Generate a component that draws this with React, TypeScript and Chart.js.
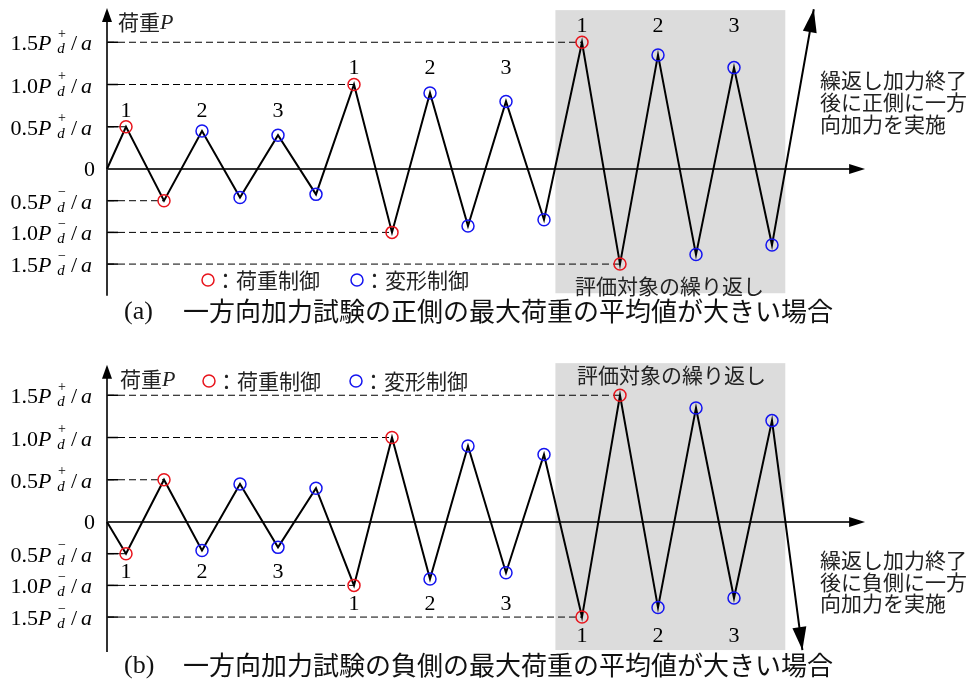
import React, { useEffect, useRef } from "react";
import { Chart, registerables } from "chart.js";
Chart.register(...registerables);

// ---- data ----
// x positions of each half-cycle peak (in half-step units from the origin)
const HALF_CYCLE_X = [1, 3, 5, 7, 9, 11, 13, 15, 17, 19, 21, 23, 25, 27, 29, 31, 33, 35];
// peak loads, as multiples of Pd+/a (positive) or Pd-/a (negative)
const PEAKS_A = [0.5, -0.5, 0.45, -0.45, 0.4, -0.4, 1.0, -1.0, 0.9, -0.9, 0.8, -0.8, 1.5, -1.5, 1.35, -1.35, 1.2, -1.2];
const PEAKS_B = [-0.5, 0.5, -0.45, 0.45, -0.4, 0.4, -1.0, 1.0, -0.9, 0.9, -0.8, 0.8, -1.5, 1.5, -1.35, 1.35, -1.2, 1.2];
const CONTROL = ["load", "load", "disp", "disp", "disp", "disp", "load", "load", "disp", "disp", "disp", "disp", "load", "load", "disp", "disp", "disp", "disp"];
const CYCLE_LABELS = ["1", "", "2", "", "3", "", "1", "", "2", "", "3", "", "1", "", "2", "", "3", ""];
const END_A = [37.2, 1.89];
const END_B = [36.6, -2.02];
const Y_LEVELS = [1.5, 1.0, 0.5, 0, -0.5, -1.0, -1.5];
const Y_LEVEL_NUMS = ["1.5", "1.0", "0.5", "0", "0.5", "1.0", "1.5"];
// drawn length of Pd- relative to Pd+
const NEG_RATIO = 0.75;
const plotY = (v: number) => (v < 0 ? v * NEG_RATIO : v);

const JP = '"Noto Sans CJK JP", sans-serif';
const SERIF = '"Liberation Serif", serif';

type Spec = any;

const SPEC_A: Spec = {
  peaks: PEAKS_A,
  end: END_A,
  height: 340,
  padBottom: 40,
  yMin: -1.55,
  yMax: 2.0,
  box: { x0: 23.6, x1: 35.7, yTop: 1.88, yBottom: -1.96 },
  axisY: [-2.0, 1.905],
  labelSide: "above",
  legendY: 280,
  legendRedX: 208,
  legendBlueX: 357,
  titleX: 118,
  titleY: 22,
  boxTextX: 575,
  boxTextY: 286,
  notes: ["繰返し加力終了", "後に正側に一方", "向加力を実施"],
  noteX: 820,
  noteY: [80, 102, 124],
  capTag: "(a)",
  caption: "一方向加力試験の正側の最大荷重の平均値が大きい場合",
  captionY: 311,
};

const SPEC_B: Spec = {
  peaks: PEAKS_B,
  end: END_B,
  height: 349,
  padBottom: 29,
  yMin: -1.633,
  yMax: 2.154,
  box: { x0: 23.6, x1: 35.7, yTop: 1.88, yBottom: -2.02 },
  axisY: [-2.05, 1.86],
  labelSide: "below",
  legendY: 41,
  legendRedX: 209,
  legendBlueX: 356,
  titleX: 120,
  titleY: 39,
  boxTextX: 577,
  boxTextY: 35,
  notes: ["繰返し加力終了", "後に負側に一方", "向加力を実施"],
  noteX: 820,
  noteY: [220, 242, 263],
  capTag: "(b)",
  caption: "一方向加力試験の負側の最大荷重の平均値が大きい場合",
  captionY: 325,
};

function arrowHead(ctx: CanvasRenderingContext2D, x0: number, y0: number, x1: number, y1: number, len: number, hw: number) {
  const a = Math.atan2(y1 - y0, x1 - x0);
  const bx = x1 - len * Math.cos(a);
  const by = y1 - len * Math.sin(a);
  ctx.beginPath();
  ctx.moveTo(x1, y1);
  ctx.lineTo(bx + hw * Math.sin(a), by - hw * Math.cos(a));
  ctx.lineTo(bx - hw * Math.sin(a), by + hw * Math.cos(a));
  ctx.closePath();
  ctx.fill();
}

function makeChart(canvas: HTMLCanvasElement, spec: Spec) {
  const pts = spec.peaks.map((v: number, i: number) => ({ x: HALF_CYCLE_X[i], y: plotY(v) }));
  const path = [{ x: 0, y: 0 }, ...pts, { x: spec.end[0], y: plotY(spec.end[1]) }];
  const red = pts.filter((_: any, i: number) => CONTROL[i] === "load");
  const blue = pts.filter((_: any, i: number) => CONTROL[i] === "disp");
  const guides = red.map((p: any) => ({
    data: [{ x: 0, y: p.y }, p],
    showLine: true,
    borderColor: "#000",
    borderWidth: 1,
    borderDash: [7, 4],
    pointRadius: 0,
    clip: false,
    order: 4,
  }));

  const deco = {
    id: "deco",
    beforeDatasetsDraw(chart: any) {
      const { ctx, scales } = chart;
      const px = (v: number) => scales.x.getPixelForValue(v);
      const py = (v: number) => scales.y.getPixelForValue(plotY(v));
      ctx.save();
      const b = spec.box;
      ctx.fillStyle = "#dcdcdc";
      ctx.fillRect(px(b.x0), py(b.yTop), px(b.x1) - px(b.x0), py(b.yBottom) - py(b.yTop));
      // level ticks
      ctx.strokeStyle = "#000";
      ctx.lineWidth = 1.5;
      Y_LEVELS.forEach((l) => {
        if (l === 0) return;
        ctx.beginPath();
        ctx.moveTo(px(0), py(l));
        ctx.lineTo(px(0) + 11, py(l));
        ctx.stroke();
      });
      // axes
      ctx.strokeStyle = "#333";
      ctx.fillStyle = "#000";
      ctx.lineWidth = 2;
      const x0 = px(0), y0 = py(0);
      const xEnd = px(39.9);
      ctx.beginPath();
      ctx.moveTo(x0, y0);
      ctx.lineTo(xEnd - 10, y0);
      ctx.stroke();
      arrowHead(ctx, x0, y0, xEnd, y0, 16, 5);
      const yb = py(spec.axisY[0]), yt = py(spec.axisY[1]);
      ctx.beginPath();
      ctx.moveTo(x0, yb);
      ctx.lineTo(x0, yt + 8);
      ctx.stroke();
      arrowHead(ctx, x0, yb, x0, yt, 14, 5);
      ctx.restore();
    },
    afterDatasetsDraw(chart: any) {
      const { ctx, scales } = chart;
      const px = (v: number) => scales.x.getPixelForValue(v);
      const py = (v: number) => scales.y.getPixelForValue(plotY(v));
      ctx.save();
      // final arrow head
      ctx.fillStyle = "#000";
      const last = path[path.length - 2];
      const endP = path[path.length - 1];
      arrowHead(ctx, px(last.x), scales.y.getPixelForValue(last.y), px(endP.x), scales.y.getPixelForValue(endP.y), 23, 7);

      // y level labels
      ctx.fillStyle = "#000";
      Y_LEVELS.forEach((l, i) => {
        const y = py(l);
        const num = Y_LEVEL_NUMS[i];
        if (l === 0) {
          ctx.font = `22px ${SERIF}`;
          ctx.textAlign = "right";
          ctx.textBaseline = "alphabetic";
          ctx.fillText(num, 95, y + 7);
          return;
        }
        ctx.textBaseline = "alphabetic";
        ctx.font = `22px ${SERIF}`;
        ctx.textAlign = "right";
        ctx.fillText(num, 38, y + 8);
        ctx.textAlign = "left";
        ctx.font = `italic 22px ${SERIF}`;
        ctx.fillText("P", 38, y + 8);
        ctx.font = `14px ${SERIF}`;
        ctx.textAlign = "center";
        ctx.textBaseline = "middle";
        ctx.fillText(l > 0 ? "+" : "\u2212", 62, y - 8);
        ctx.textBaseline = "alphabetic";
        ctx.font = `italic 15px ${SERIF}`;
        ctx.fillText("d", 61, y + 11);
        ctx.textAlign = "left";
        ctx.font = `22px ${SERIF}`;
        ctx.fillText("/", 71, y + 8);
        ctx.font = `italic 22px ${SERIF}`;
        ctx.fillText("a", 81, y + 8);
      });

      // cycle numbers
      ctx.font = `22px ${SERIF}`;
      ctx.textAlign = "center";
      ctx.textBaseline = "middle";
      CYCLE_LABELS.forEach((t, i) => {
        if (!t) return;
        const g = Math.floor(i / 6) * 6;
        const ref = scales.y.getPixelForValue(pts[g].y);
        const y = spec.labelSide === "above" ? ref - 16 : ref + 19;
        ctx.fillText(t, px(pts[i].x), y);
      });

      // axis title
      ctx.textAlign = "left";
      ctx.font = `21px ${JP}`;
      ctx.fillStyle = "#222";
      ctx.fillText("荷重", spec.titleX, spec.titleY);
      ctx.font = `italic 22px ${SERIF}`;
      ctx.fillText("P", spec.titleX + 42, spec.titleY + 1);

      // legend
      const legend = (cx: number, color: string, text: string) => {
        ctx.strokeStyle = color;
        ctx.lineWidth = 1.5;
        ctx.beginPath();
        ctx.arc(cx, spec.legendY, 6, 0, Math.PI * 2);
        ctx.stroke();
        ctx.fillStyle = "#222";
        ctx.font = `21px ${JP}`;
        ctx.textAlign = "left";
        ctx.fillText(text, cx + 7, spec.legendY);
      };
      legend(spec.legendRedX, "#e8141c", "：荷重制御");
      legend(spec.legendBlueX, "#1414f0", "：変形制御");

      // box caption
      ctx.fillStyle = "#222";
      ctx.font = `21px ${JP}`;
      ctx.fillText("評価対象の繰り返し", spec.boxTextX, spec.boxTextY);

      // notes
      spec.notes.forEach((n: string, i: number) => ctx.fillText(n, spec.noteX, spec.noteY[i]));

      // caption
      ctx.fillStyle = "#111";
      ctx.font = `26px ${SERIF}`;
      ctx.fillText(spec.capTag, 124, spec.captionY + 1);
      ctx.font = `26px ${JP}`;
      ctx.fillText(spec.caption, 183, spec.captionY);
      ctx.restore();
    },
  };

  return new Chart(canvas, {
    type: "scatter",
    data: {
      datasets: [
        {
          data: red,
          showLine: false,
          pointRadius: 6,
          pointHoverRadius: 6,
          pointBorderWidth: 1.5,
          pointBorderColor: "#e8141c",
          pointBackgroundColor: "rgba(0,0,0,0)",
          clip: false,
          order: 1,
        },
        {
          data: blue,
          showLine: false,
          pointRadius: 6,
          pointHoverRadius: 6,
          pointBorderWidth: 1.5,
          pointBorderColor: "#1414f0",
          pointBackgroundColor: "rgba(0,0,0,0)",
          clip: false,
          order: 1,
        },
        {
          data: path,
          showLine: true,
          borderColor: "#000",
          borderWidth: 2,
          pointRadius: 0,
          tension: 0,
          clip: false,
          order: 2,
        },
        ...guides,
      ] as any,
    },
    options: {
      responsive: false,
      animation: false,
      events: [],
      layout: { autoPadding: false, padding: { left: 107, right: 105, top: 0, bottom: spec.padBottom } },
      plugins: { legend: { display: false }, tooltip: { enabled: false }, title: { display: false } },
      scales: {
        x: { type: "linear", min: 0, max: 40, display: false },
        y: { type: "linear", min: spec.yMin, max: spec.yMax, display: false },
      },
    } as any,
    plugins: [deco],
  });
}

export default function App() {
  const refA = useRef<HTMLCanvasElement>(null);
  const refB = useRef<HTMLCanvasElement>(null);
  useEffect(() => {
    const a = makeChart(refA.current!, SPEC_A);
    const b = makeChart(refB.current!, SPEC_B);
    return () => {
      a.destroy();
      b.destroy();
    };
  }, []);
  return (
    <div style={{ position: "absolute", left: 0, top: 0, width: 972, height: 689, background: "#fff" }}>
      <canvas ref={refA} width={972} height={340} style={{ position: "absolute", left: 0, top: 0 }} />
      <canvas ref={refB} width={972} height={349} style={{ position: "absolute", left: 0, top: 340 }} />
    </div>
  );
}
